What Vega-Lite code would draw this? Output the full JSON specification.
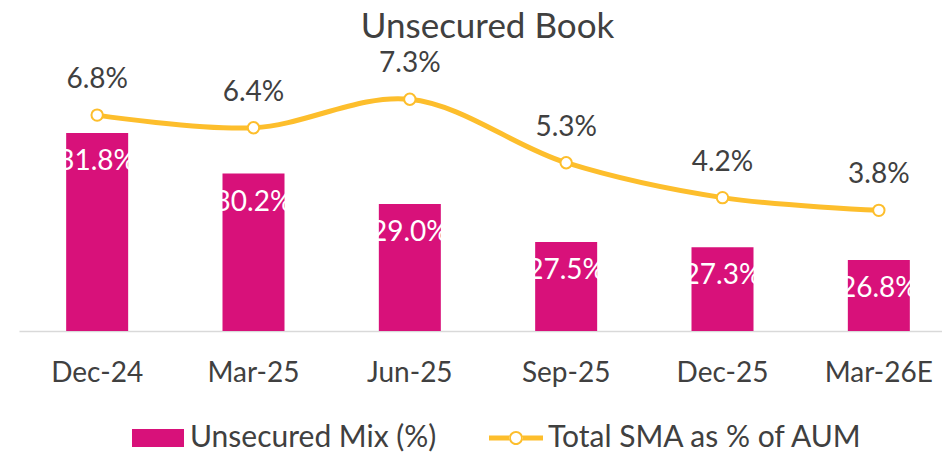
{
  "$schema": "https://vega.github.io/schema/vega-lite/v6.json",
  "width": 923,
  "height": 254,
  "autosize": "none",
  "padding": {"left": 19, "top": 77, "right": 0, "bottom": 122},
  "background": "white",
  "config": {
    "view": {"stroke": null},
    "font": "Lato",
    "locale": {"number": {"decimal": ".", "thousands": ",", "grouping": [3], "currency": ["", "%"]}}
  },
  "title": {"text": "Unsecured Book", "font": "Lato", "fontSize": 35, "fontWeight": "normal", "color": "#404040", "anchor": "middle", "dx": 7, "offset": 5},
  "data": {"values": [
    {"month": "Dec-24", "mix": 31.8, "sma": 6.8},
    {"month": "Mar-25", "mix": 30.2, "sma": 6.4},
    {"month": "Jun-25", "mix": 29.0, "sma": 7.3},
    {"month": "Sep-25", "mix": 27.5, "sma": 5.3},
    {"month": "Dec-25", "mix": 27.3, "sma": 4.2},
    {"month": "Mar-26E", "mix": 26.8, "sma": 3.8}
  ]},
  "encoding": {
    "x": {"field": "month", "type": "nominal", "sort": null,
      "scale": {"range": [0, 938], "paddingInner": 0.6, "paddingOuter": 0.3},
      "axis": {"title": null, "labelAngle": 0, "labelFont": "Lato", "labelFontSize": 28, "labelColor": "#404040", "labelPadding": 28, "ticks": false, "domainColor": "#D9D9D9", "domainWidth": 1.5, "grid": false}
    }
  },
  "layer": [
    {
      "encoding": {
        "y": {"field": "mix", "type": "quantitative", "scale": {"domain": [24, 34], "zero": false}, "axis": null}
      },
      "layer": [
        {"mark": {"type": "bar", "size": 62},
         "encoding": {"y2": {"datum": 24}, "color": {"datum": "Unsecured Mix (%)", "type": "nominal",
           "scale": {"domain": ["Unsecured Mix (%)", "Total SMA as % of AUM"], "range": ["#D8117A", "#FDBE2C"]},
           "legend": {"title": null, "orient": "none", "direction": "horizontal", "legendX": 112, "legendY": 334,
             "labelFont": "Lato", "labelFontSize": 30, "labelColor": "#404040", "labelOffset": 5, "labelLimit": 0, "columnPadding": 52, "padding": 0,
             "symbolSize": 2916, "symbolStrokeWidth": 0,
             "encode": {"symbols": {"update": {
               "shape": {"signal": "datum.value === 'Unsecured Mix (%)' ? 'M-0.963,-0.333H0.963V0.333H-0.963Z' : 'M-1,-0.093H-0.25V0.093H-1Z M0.25,-0.093H1V0.093H0.25Z M0.26,0A0.26,0.26 0 1,0 -0.26,0A0.26,0.26 0 1,0 0.26,0Z M0.185,0A0.185,0.185 0 1,1 -0.185,0A0.185,0.185 0 1,1 0.185,0Z'"},
               "strokeWidth": {"value": 0},
               "opacity": {"value": 1}
             }}}
           }}}},
        {"mark": {"type": "text", "dy": 29, "baseline": "middle", "align": "center", "color": "white", "font": "Lato", "fontSize": 28},
         "encoding": {"text": {"field": "mix", "type": "quantitative", "format": "$.1f"}}}
      ]
    },
    {
      "encoding": {
        "y": {"field": "sma", "type": "quantitative", "scale": {"domain": [0, 8]}, "axis": null}
      },
      "layer": [
        {"mark": {"type": "line", "interpolate": "catmull-rom", "strokeWidth": 5},
         "encoding": {"color": {"datum": "Total SMA as % of AUM", "type": "nominal"}}},
        {"mark": {"type": "point", "filled": true, "fill": "white", "stroke": "#FDBE2C", "strokeWidth": 2, "size": 130, "opacity": 1, "shape": "circle"}},
        {"mark": {"type": "text", "dy": -35, "baseline": "middle", "align": "center", "color": "#404040", "font": "Lato", "fontSize": 28},
         "encoding": {"text": {"field": "sma", "type": "quantitative", "format": "$.1f"}}}
      ]
    }
  ],
  "resolve": {"scale": {"y": "independent"}}
}
